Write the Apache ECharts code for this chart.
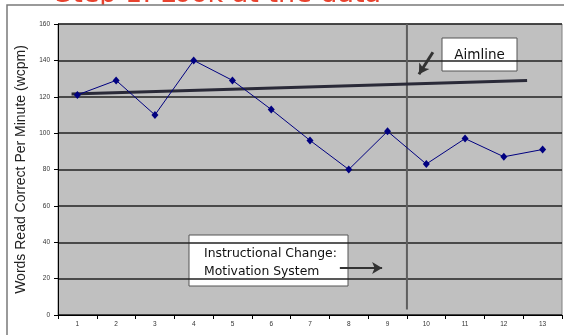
<!DOCTYPE html>
<html>
<head>
<meta charset="utf-8">
<script src="https://cdn.jsdelivr.net/npm/echarts@6/dist/echarts.min.js"></script>
<style>
  html, body { margin: 0; padding: 0; background: #ffffff; }
  #chart { width: 564px; height: 335px; }
</style>
</head>
<body>
<div id="chart"></div>
<script>
// Session numbers along the x axis
const sessions = ['1', '2', '3', '4', '5', '6', '7', '8', '9', '10', '11', '12', '13'];
// Words read correct per minute for each session
const wcpm = [121, 129, 110, 140, 129, 113, 96, 80, 101, 83, 97, 87, 91];
// Aimline end points (session position, wcpm)
const aimX = [0.85, 12.6];
const aimY = [121.5, 129];
// Phase change between session 9 and 10
const phaseX = 9.5;
const phaseY = [3, 160];
// Annotation arrows (session position, wcpm): [from, to]
const aimArrow = [[10.17, 144.5], [9.81, 132.4]];
const changeArrow = [[7.77, 25.8], [8.86, 25.8]];
// Y axis range
const yMin = 0, yMax = 160, yStep = 20;

const chart = echarts.init(document.getElementById('chart'));

const tickFont = { fontFamily: 'Liberation Sans', fontSize: 6.5, color: '#333' };
const darkLine = '#222222';

chart.setOption({
  animation: false,
  backgroundColor: '#ffffff',
  grid: {
    left: 58, top: 24, right: 2, bottom: 20,
    show: true,
    backgroundColor: '#c0c0c0',
    borderColor: '#808080',
    borderWidth: 1
  },
  xAxis: [
    {
      type: 'category',
      data: sessions,
      boundaryGap: true,
      axisLine: { lineStyle: { color: '#000', width: 1 } },
      axisTick: { show: true, length: 4, lineStyle: { color: '#000' } },
      axisLabel: Object.assign({ margin: 6 }, tickFont),
      splitLine: { show: false }
    },
    {
      type: 'value',
      min: 0.5, max: 13.5,
      show: false,
      splitLine: { show: false }
    }
  ],
  yAxis: {
    type: 'value',
    min: yMin, max: yMax, interval: yStep,
    name: 'Words Read Correct Per Minute (wcpm)',
    nameLocation: 'middle',
    nameGap: 22,
    nameTextStyle: { fontFamily: 'Liberation Sans', fontSize: 14, color: '#222' },
    axisLine: { show: true, lineStyle: { color: '#000', width: 1 } },
    axisTick: { show: true, length: 4, lineStyle: { color: '#000' } },
    axisLabel: Object.assign({ margin: 8 }, tickFont),
    splitLine: { show: true, lineStyle: { color: darkLine, width: 1.5 } }
  },
  series: [
    {
      name: 'Phase change',
      type: 'line',
      xAxisIndex: 1,
      data: phaseY.map(v => [phaseX, v]),
      symbol: 'none',
      lineStyle: { color: '#5e5e5e', width: 2 },
      z: 2
    },
    {
      name: 'Aimline',
      type: 'line',
      xAxisIndex: 1,
      data: aimX.map((x, i) => [x, aimY[i]]),
      symbol: 'none',
      lineStyle: { color: '#2a2a38', width: 3 },
      z: 3,
      markLine: {
        silent: true,
        symbol: ['none', 'arrow'],
        symbolSize: [9, 10],
        label: { show: false },
        lineStyle: { type: 'solid', color: '#333', width: 3 },
        data: [
          [{ coord: aimArrow[0] }, { coord: aimArrow[1] }],
          [{ coord: changeArrow[0], lineStyle: { width: 2 } },
           { coord: changeArrow[1], lineStyle: { width: 2 } }]
        ]
      }
    },
    {
      name: 'wcpm',
      type: 'line',
      data: wcpm,
      symbol: 'diamond',
      symbolSize: [7, 8],
      itemStyle: { color: '#000080' },
      lineStyle: { color: '#000080', width: 1 },
      z: 4
    }
  ],
  graphic: [
    {
      type: 'text', z: -20, x: 55, y: -5.5,
      style: {
        text: 'Step 1: Look at the data',
        fontFamily: 'DejaVu Sans',
        fontSize: 27,
        fill: '#e8432f',
        textAlign: 'left',
        textVerticalAlign: 'middle'
      }
    },
    {
      type: 'rect', z: -10,
      shape: { x: 7, y: 5, width: 600, height: 400 },
      style: { fill: '#ffffff', stroke: '#7a7a7a', lineWidth: 1.5 }
    },
    {
      type: 'group', z: 10,
      children: [
        {
          type: 'rect',
          shape: { x: 442, y: 38, width: 75, height: 33 },
          style: { fill: '#ffffff', stroke: '#555', lineWidth: 1 }
        },
        {
          type: 'text', x: 479.5, y: 55,
          style: {
            text: 'Aimline', fontFamily: 'DejaVu Sans', fontSize: 13.5, fill: '#111',
            textAlign: 'center', textVerticalAlign: 'middle'
          }
        },
        {
          type: 'rect',
          shape: { x: 189, y: 235, width: 159, height: 51 },
          style: { fill: '#ffffff', stroke: '#555', lineWidth: 1 }
        },
        {
          type: 'text', x: 204, y: 263,
          style: {
            text: 'Instructional Change:\nMotivation System',
            fontFamily: 'DejaVu Sans', fontSize: 12.4, lineHeight: 18, fill: '#111',
            textAlign: 'left', textVerticalAlign: 'middle'
          }
        }
      ]
    }
  ]
});
</script>
</body>
</html>
